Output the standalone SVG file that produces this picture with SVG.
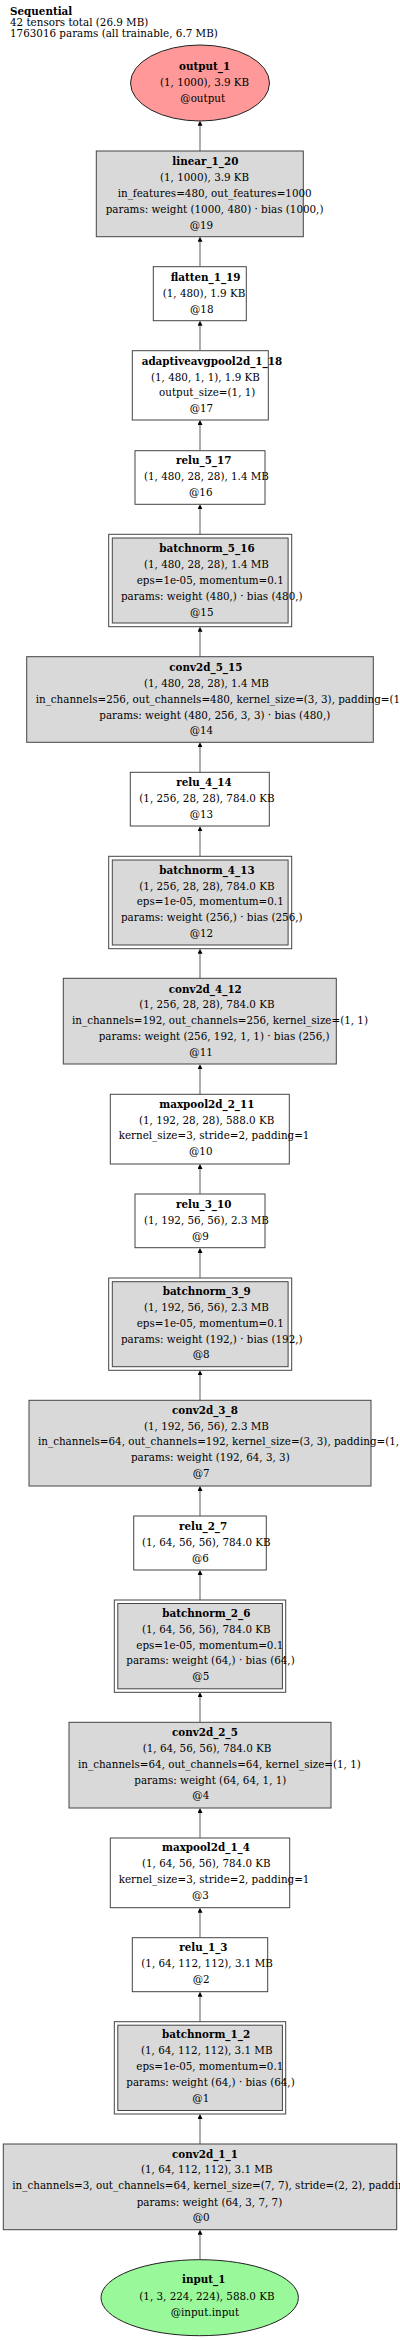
<svg xmlns="http://www.w3.org/2000/svg" width="400" height="2340" viewBox="0 0 400 2340">
<style>
text{font-family:"DejaVu Serif","Liberation Serif",serif;font-size:10.35px;fill:#000}
.b{font-weight:bold}
.box{fill:#fff;stroke:#444;stroke-width:1}
.g{fill:#d9d9d9;stroke:#444;stroke-width:1}
.o{fill:none;stroke:#444;stroke-width:1}
.e{stroke:#777;stroke-width:1.2;fill:none;marker-end:url(#ah)}
</style>
<defs>
<marker id="ah" viewBox="0 0 10 10" refX="2" refY="5" markerWidth="5" markerHeight="5" markerUnits="userSpaceOnUse" orient="auto"><path d="M0,0 L10,5 L0,10 z" fill="#000"/></marker>
</defs>
<rect width="400" height="2340" fill="#fff"/>
<g id="title">
<text class="b" x="10" y="15">Sequential</text>
<text x="10" y="26">42 tensors total (26.9 MB)</text>
<text x="10" y="37">1763016 params (all trainable, 6.7 MB)</text>
</g>
<g id="edges">
<path class="e" d="M200,151 V124.7"/>
<path class="e" d="M200,266.7 V240.7"/>
<path class="e" d="M200,350.7 V324.7"/>
<path class="e" d="M200,450.7 V424"/>
<path class="e" d="M200,534.3 V508.3"/>
<path class="e" d="M200,656.7 V630.7"/>
<path class="e" d="M200,772.3 V746.3"/>
<path class="e" d="M200,856.3 V830.3"/>
<path class="e" d="M200,978.3 V952.7"/>
<path class="e" d="M200,1094.3 V1068.3"/>
<path class="e" d="M200,1194 V1168"/>
<path class="e" d="M200,1278 V1252"/>
<path class="e" d="M200,1400.3 V1374.3"/>
<path class="e" d="M200,1516 V1490"/>
<path class="e" d="M200,1600 V1574"/>
<path class="e" d="M200,1722.3 V1696.3"/>
<path class="e" d="M200,1838 V1812"/>
<path class="e" d="M200,1937.7 V1911.7"/>
<path class="e" d="M200,2021.7 V1995.7"/>
<path class="e" d="M200,2144 V2118"/>
<path class="e" d="M200,2259.7 V2233.7"/>
</g>
<g id="output_1">
<ellipse cx="200" cy="83" rx="69.5" ry="38" fill="#ff9999" stroke="#222" stroke-width="1"/>
<text class="b" x="179" y="69.5">output_1</text>
<text x="160" y="86">(1, 1000), 3.9 KB</text>
<text x="180.3" y="101.8">@output</text>
</g>
<g id="linear_1_20">
<rect class="g" x="96.3" y="151" width="207" height="85.7"/>
<text class="b" x="172.3" y="164.8">linear_1_20</text>
<text x="160" y="180.8">(1, 1000), 3.9 KB</text>
<text x="117.7" y="196.8">in_features=480, out_features=1000</text>
<text x="105.7" y="212.8">params: weight (1000, 480) · bias (1000,)</text>
<text x="189.7" y="228.8">@19</text>
</g>
<g id="flatten_1_19">
<rect class="box" x="153.3" y="266.7" width="93" height="54"/>
<text class="b" x="170.7" y="280.5">flatten_1_19</text>
<text x="162.7" y="296.5">(1, 480), 1.9 KB</text>
<text x="190" y="312.5">@18</text>
</g>
<g id="adaptiveavgpool2d_1_18">
<rect class="box" x="132.3" y="350.7" width="136" height="69.3"/>
<text class="b" x="141.7" y="364.5">adaptiveavgpool2d_1_18</text>
<text x="151" y="380.5">(1, 480, 1, 1), 1.9 KB</text>
<text x="159" y="396.3">output_size=(1, 1)</text>
<text x="189.7" y="412">@17</text>
</g>
<g id="relu_5_17">
<rect class="box" x="135" y="450.7" width="130" height="53.6"/>
<text class="b" x="176" y="464.3">relu_5_17</text>
<text x="144" y="480.3">(1, 480, 28, 28), 1.4 MB</text>
<text x="189" y="496.3">@16</text>
</g>
<g id="batchnorm_5_16">
<rect class="o" x="108.7" y="534.3" width="183" height="92.4"/>
<rect class="g" x="112.3" y="538" width="175.8" height="85"/>
<text class="b" x="159.3" y="551.8">batchnorm_5_16</text>
<text x="144" y="567.8">(1, 480, 28, 28), 1.4 MB</text>
<text x="136.7" y="583.8">eps=1e-05, momentum=0.1</text>
<text x="121" y="599.8">params: weight (480,) · bias (480,)</text>
<text x="190" y="615.8">@15</text>
</g>
<g id="conv2d_5_15">
<rect class="g" x="26.7" y="656.7" width="346.6" height="85.6"/>
<text class="b" x="169.3" y="670.5">conv2d_5_15</text>
<text x="144" y="686.5">(1, 480, 28, 28), 1.4 MB</text>
<text x="35.7" y="702.5">in_channels=256, out_channels=480, kernel_size=(3, 3), padding=(1, 1)</text>
<text x="99.3" y="718.5">params: weight (480, 256, 3, 3) · bias (480,)</text>
<text x="189.7" y="734.3">@14</text>
</g>
<g id="relu_4_14">
<rect class="box" x="130.3" y="772.3" width="139" height="53.7"/>
<text class="b" x="176.3" y="786.3">relu_4_14</text>
<text x="139.3" y="802.3">(1, 256, 28, 28), 784.0 KB</text>
<text x="189.7" y="818.3">@13</text>
</g>
<g id="batchnorm_4_13">
<rect class="o" x="108.7" y="856.3" width="183" height="92.4"/>
<rect class="g" x="112.3" y="860" width="175.8" height="85"/>
<text class="b" x="159.3" y="873.5">batchnorm_4_13</text>
<text x="139.3" y="889.5">(1, 256, 28, 28), 784.0 KB</text>
<text x="136.7" y="905.3">eps=1e-05, momentum=0.1</text>
<text x="121" y="921">params: weight (256,) · bias (256,)</text>
<text x="189.7" y="937">@12</text>
</g>
<g id="conv2d_4_12">
<rect class="g" x="63.3" y="978.3" width="273" height="85.7"/>
<text class="b" x="168.7" y="992.5">conv2d_4_12</text>
<text x="139.3" y="1008.3">(1, 256, 28, 28), 784.0 KB</text>
<text x="72" y="1024.3">in_channels=192, out_channels=256, kernel_size=(1, 1)</text>
<text x="98.7" y="1040.2">params: weight (256, 192, 1, 1) · bias (256,)</text>
<text x="189.3" y="1056">@11</text>
</g>
<g id="maxpool2d_2_11">
<rect class="box" x="110.3" y="1094.3" width="179" height="69.7"/>
<text class="b" x="159.3" y="1107.5">maxpool2d_2_11</text>
<text x="139" y="1123.5">(1, 192, 28, 28), 588.0 KB</text>
<text x="118.7" y="1139.3">kernel_size=3, stride=2, padding=1</text>
<text x="189" y="1155.2">@10</text>
</g>
<g id="relu_3_10">
<rect class="box" x="135" y="1194" width="130" height="53.7"/>
<text class="b" x="176" y="1207.5">relu_3_10</text>
<text x="144" y="1223.7">(1, 192, 56, 56), 2.3 MB</text>
<text x="192" y="1239.5">@9</text>
</g>
<g id="batchnorm_3_9">
<rect class="o" x="108.7" y="1278" width="183" height="92.3"/>
<rect class="g" x="112.3" y="1281.7" width="175.8" height="85"/>
<text class="b" x="162.7" y="1294.5">batchnorm_3_9</text>
<text x="144" y="1310.8">(1, 192, 56, 56), 2.3 MB</text>
<text x="136.7" y="1326.7">eps=1e-05, momentum=0.1</text>
<text x="121" y="1342.5">params: weight (192,) · bias (192,)</text>
<text x="192.7" y="1358.4">@8</text>
</g>
<g id="conv2d_3_8">
<rect class="g" x="29" y="1400.3" width="342" height="85.7"/>
<text class="b" x="172" y="1413.5">conv2d_3_8</text>
<text x="144" y="1429.5">(1, 192, 56, 56), 2.3 MB</text>
<text x="38" y="1445.2">in_channels=64, out_channels=192, kernel_size=(3, 3), padding=(1, 1)</text>
<text x="131" y="1461">params: weight (192, 64, 3, 3)</text>
<text x="192.7" y="1477">@7</text>
</g>
<g id="relu_2_7">
<rect class="box" x="133.7" y="1516" width="132.6" height="54"/>
<text class="b" x="179" y="1529.5">relu_2_7</text>
<text x="142" y="1545.7">(1, 64, 56, 56), 784.0 KB</text>
<text x="192" y="1561.7">@6</text>
</g>
<g id="batchnorm_2_6">
<rect class="o" x="114.3" y="1600" width="171.4" height="92.3"/>
<rect class="g" x="117.8" y="1603.5" width="164.6" height="85.3"/>
<text class="b" x="162.3" y="1616.8">batchnorm_2_6</text>
<text x="142" y="1632.8">(1, 64, 56, 56), 784.0 KB</text>
<text x="136.3" y="1648.5">eps=1e-05, momentum=0.1</text>
<text x="126.3" y="1664.4">params: weight (64,) · bias (64,)</text>
<text x="192.3" y="1680.2">@5</text>
</g>
<g id="conv2d_2_5">
<rect class="g" x="69" y="1722.3" width="262" height="85.7"/>
<text class="b" x="172" y="1735.8">conv2d_2_5</text>
<text x="142.7" y="1751.8">(1, 64, 56, 56), 784.0 KB</text>
<text x="78" y="1767.7">in_channels=64, out_channels=64, kernel_size=(1, 1)</text>
<text x="134.3" y="1783.5">params: weight (64, 64, 1, 1)</text>
<text x="192.3" y="1799.3">@4</text>
</g>
<g id="maxpool2d_1_4">
<rect class="box" x="110.3" y="1838" width="179.4" height="69.7"/>
<text class="b" x="162" y="1851.2">maxpool2d_1_4</text>
<text x="142" y="1867">(1, 64, 56, 56), 784.0 KB</text>
<text x="118.7" y="1883">kernel_size=3, stride=2, padding=1</text>
<text x="192" y="1899">@3</text>
</g>
<g id="relu_1_3">
<rect class="box" x="132.3" y="1937.7" width="135.4" height="54"/>
<text class="b" x="179.3" y="1951">relu_1_3</text>
<text x="141.3" y="1967">(1, 64, 112, 112), 3.1 MB</text>
<text x="192.7" y="1983">@2</text>
</g>
<g id="batchnorm_1_2">
<rect class="o" x="114.3" y="2021.7" width="171.4" height="92.3"/>
<rect class="g" x="117.8" y="2025.2" width="164.6" height="85.3"/>
<text class="b" x="162" y="2038.2">batchnorm_1_2</text>
<text x="141" y="2054.3">(1, 64, 112, 112), 3.1 MB</text>
<text x="136.3" y="2070.1">eps=1e-05, momentum=0.1</text>
<text x="126.3" y="2085.9">params: weight (64,) · bias (64,)</text>
<text x="192.3" y="2101.8">@1</text>
</g>
<g id="conv2d_1_1">
<rect class="g" x="3.3" y="2144" width="393.4" height="85.7"/>
<text class="b" x="172" y="2157.6">conv2d_1_1</text>
<text x="141" y="2173.4">(1, 64, 112, 112), 3.1 MB</text>
<text x="12.3" y="2189.2">in_channels=3, out_channels=64, kernel_size=(7, 7), stride=(2, 2), padding=(3, 3)</text>
<text x="136.7" y="2205.5">params: weight (64, 3, 7, 7)</text>
<text x="192.7" y="2221">@0</text>
</g>
<g id="input_1">
<ellipse cx="199.7" cy="2297.7" rx="98.7" ry="38" fill="#99f899" stroke="#222" stroke-width="1"/>
<text class="b" x="182" y="2283.4">input_1</text>
<text x="139.3" y="2300">(1, 3, 224, 224), 588.0 KB</text>
<text x="170.7" y="2315.8">@input.input</text>
</g>
</svg>
